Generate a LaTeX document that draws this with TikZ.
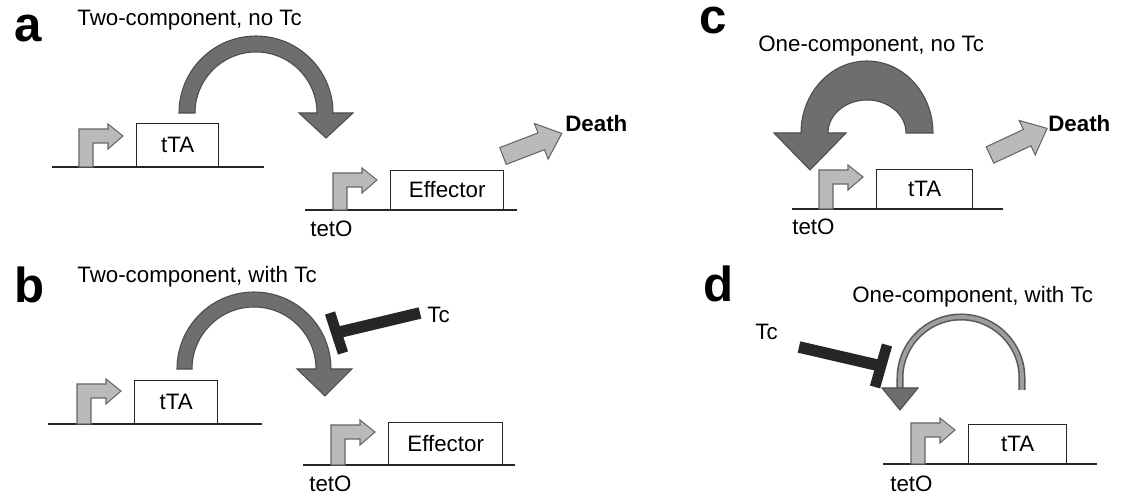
\documentclass[tikz,border=0pt]{standalone}
\usepackage{fontspec}
\setmainfont{Liberation Sans}
\usepackage{tikz}
\usetikzlibrary{calc}

\begin{document}
\begin{tikzpicture}[x=0.02cm, y=0.02cm,
  txt/.style={inner sep=0pt, anchor=base west, font=\fontsize{12.7}{15}\selectfont},
  panel/.style={inner sep=0pt, anchor=base west, text height=0.52em, font=\fontsize{28}{30}\selectfont\bfseries},
  gene/.style={draw=black!85, fill=white, line width=0.8pt, inner sep=0pt, anchor=south west, font=\fontsize{12.7}{15}\selectfont},
  dna/.style={draw=black!85, line width=0.8pt},
  promoter/.style={draw=black!60, fill=black!27, line width=0.6pt},
  bigarrow/.style={draw=black!70, fill=black!57, line width=0.6pt},
  thinarc/.style={draw=black!65, line width=0.9pt, double=black!38, double distance=2.2pt},
  inhib/.style={draw=black!85, line width=6.6pt}]

\useasboundingbox (0,0) rectangle (1123,497);

% a
\node [panel] (labA) at (14,455) {a};
\node [txt] (titleA) at (77,471) {Two-component, no Tc};
\draw [dna] (52,330) -- (264,330);
\draw [dna] (305,287) -- (517,287);
\node [gene, minimum width=1.64cm, minimum height=0.86cm] (tTAa) at (136,330) {tTA};
\node [gene, minimum width=2.26cm, minimum height=0.78cm] (effA) at (390,287) {Effector};
\node [txt] (tetOa) at (310,260) {tetO};
\draw [bigarrow] (179,384) arc[start angle=180, end angle=0, radius=77] -- (353,384) -- (326,359) -- (299,384) -- (317,384) arc[start angle=0, end angle=180, radius=61] -- cycle;
\draw [promoter, shift={(503,341)}, rotate=21] (0,-9) -- (41,-9) -- (41,-19) -- (63,0) -- (41,19) -- (41,9) -- (0,9) -- cycle; % Death arrow
\node [txt, font=\fontsize{12.7}{15}\selectfont\bfseries] (deathA) at (565,365) {Death};

% b
\node [panel] (labB) at (14,194) {b};
\node [txt] (titleB) at (77,214) {Two-component, with Tc};
\draw [dna] (48,73) -- (262,73);
\draw [dna] (303,32) -- (515,32);
\node [gene, minimum width=1.66cm, minimum height=0.86cm] (tTAb) at (134,73) {tTA};
\node [gene, minimum width=2.28cm, minimum height=0.84cm] (effB) at (388,32) {Effector};
\node [txt] (tetOb) at (309,5) {tetO};
\draw [bigarrow] (177,128) arc[start angle=180, end angle=0, radius=77] -- (352,128) -- (325,101) -- (297,128) -- (316,128) arc[start angle=0, end angle=180, radius=62] -- cycle;
\node [txt] (tcB) at (427,174) {Tc};
\coordinate (stemB) at (420,184);
\coordinate (barB) at (336,164);
\draw [inhib] (stemB) -- (barB);
\draw [inhib, line width=6pt] ($(barB)+(-6,20)$) -- ($(barB)+(7,-20)$);

% c
\node [panel] (labC) at (699,463) {c};
\node [txt] (titleC) at (758,445) {One-component, no Tc};
\draw [dna] (792,288) -- (1003,288);
\node [gene, minimum width=1.92cm, minimum height=0.78cm] (tTAc) at (876,288) {tTA};
\node [txt] (tetOc) at (792,262) {tetO};
\draw [bigarrow] (933,364) arc[start angle=0, end angle=180, x radius=66, y radius=72] -- (774,364) -- (810,327) -- (846,364) -- (828,364) arc[start angle=180, end angle=0, x radius=39, y radius=33] -- cycle;
\draw [promoter, shift={(990,342)}, rotate=25] (0,-9) -- (41,-9) -- (41,-19) -- (63,0) -- (41,19) -- (41,9) -- (0,9) -- cycle; % Death arrow
\node [txt, font=\fontsize{12.7}{15}\selectfont\bfseries] (deathC) at (1048,365) {Death};

% d
\node [panel] (labD) at (703,195) {d};
\node [txt] (titleD) at (852,194) {One-component, with Tc};
\draw [dna] (883,33) -- (1097,33);
\node [gene, minimum width=1.96cm, minimum height=0.78cm] (tTAd) at (968,33) {tTA};
\node [txt] (tetOd) at (890,5) {tetO};
\draw [thinarc] (1022,107) -- (1022,119) arc[start angle=0, end angle=180, radius=61] -- (900,109);
\draw [bigarrow] (882,109) -- (918,109) -- (900,87) -- cycle;
\node [txt] (tcD) at (755,157) {Tc};
\coordinate (stemD) at (799,150);
\coordinate (barD) at (881,131);
\draw [inhib] (stemD) -- (barD);
\draw [inhib, line width=6pt] ($(barD)+(6,21)$) -- ($(barD)+(-6,-21)$);

% promoters
\foreach \px/\py/\ph in {79/330/38, 333/287/37, 77/73/40, 331/32/40, 819/288/39, 911/33/41}{
    \draw [promoter] (\px,\py) -- ++(0,\ph) -- ++(29,0) -- ++(0,5) -- ++(15,-12) -- ++(-15,-13) -- ++(0,6) -- ++(-15,0) -- (\px+14,\py) -- cycle;
}

\end{tikzpicture}
\end{document}
